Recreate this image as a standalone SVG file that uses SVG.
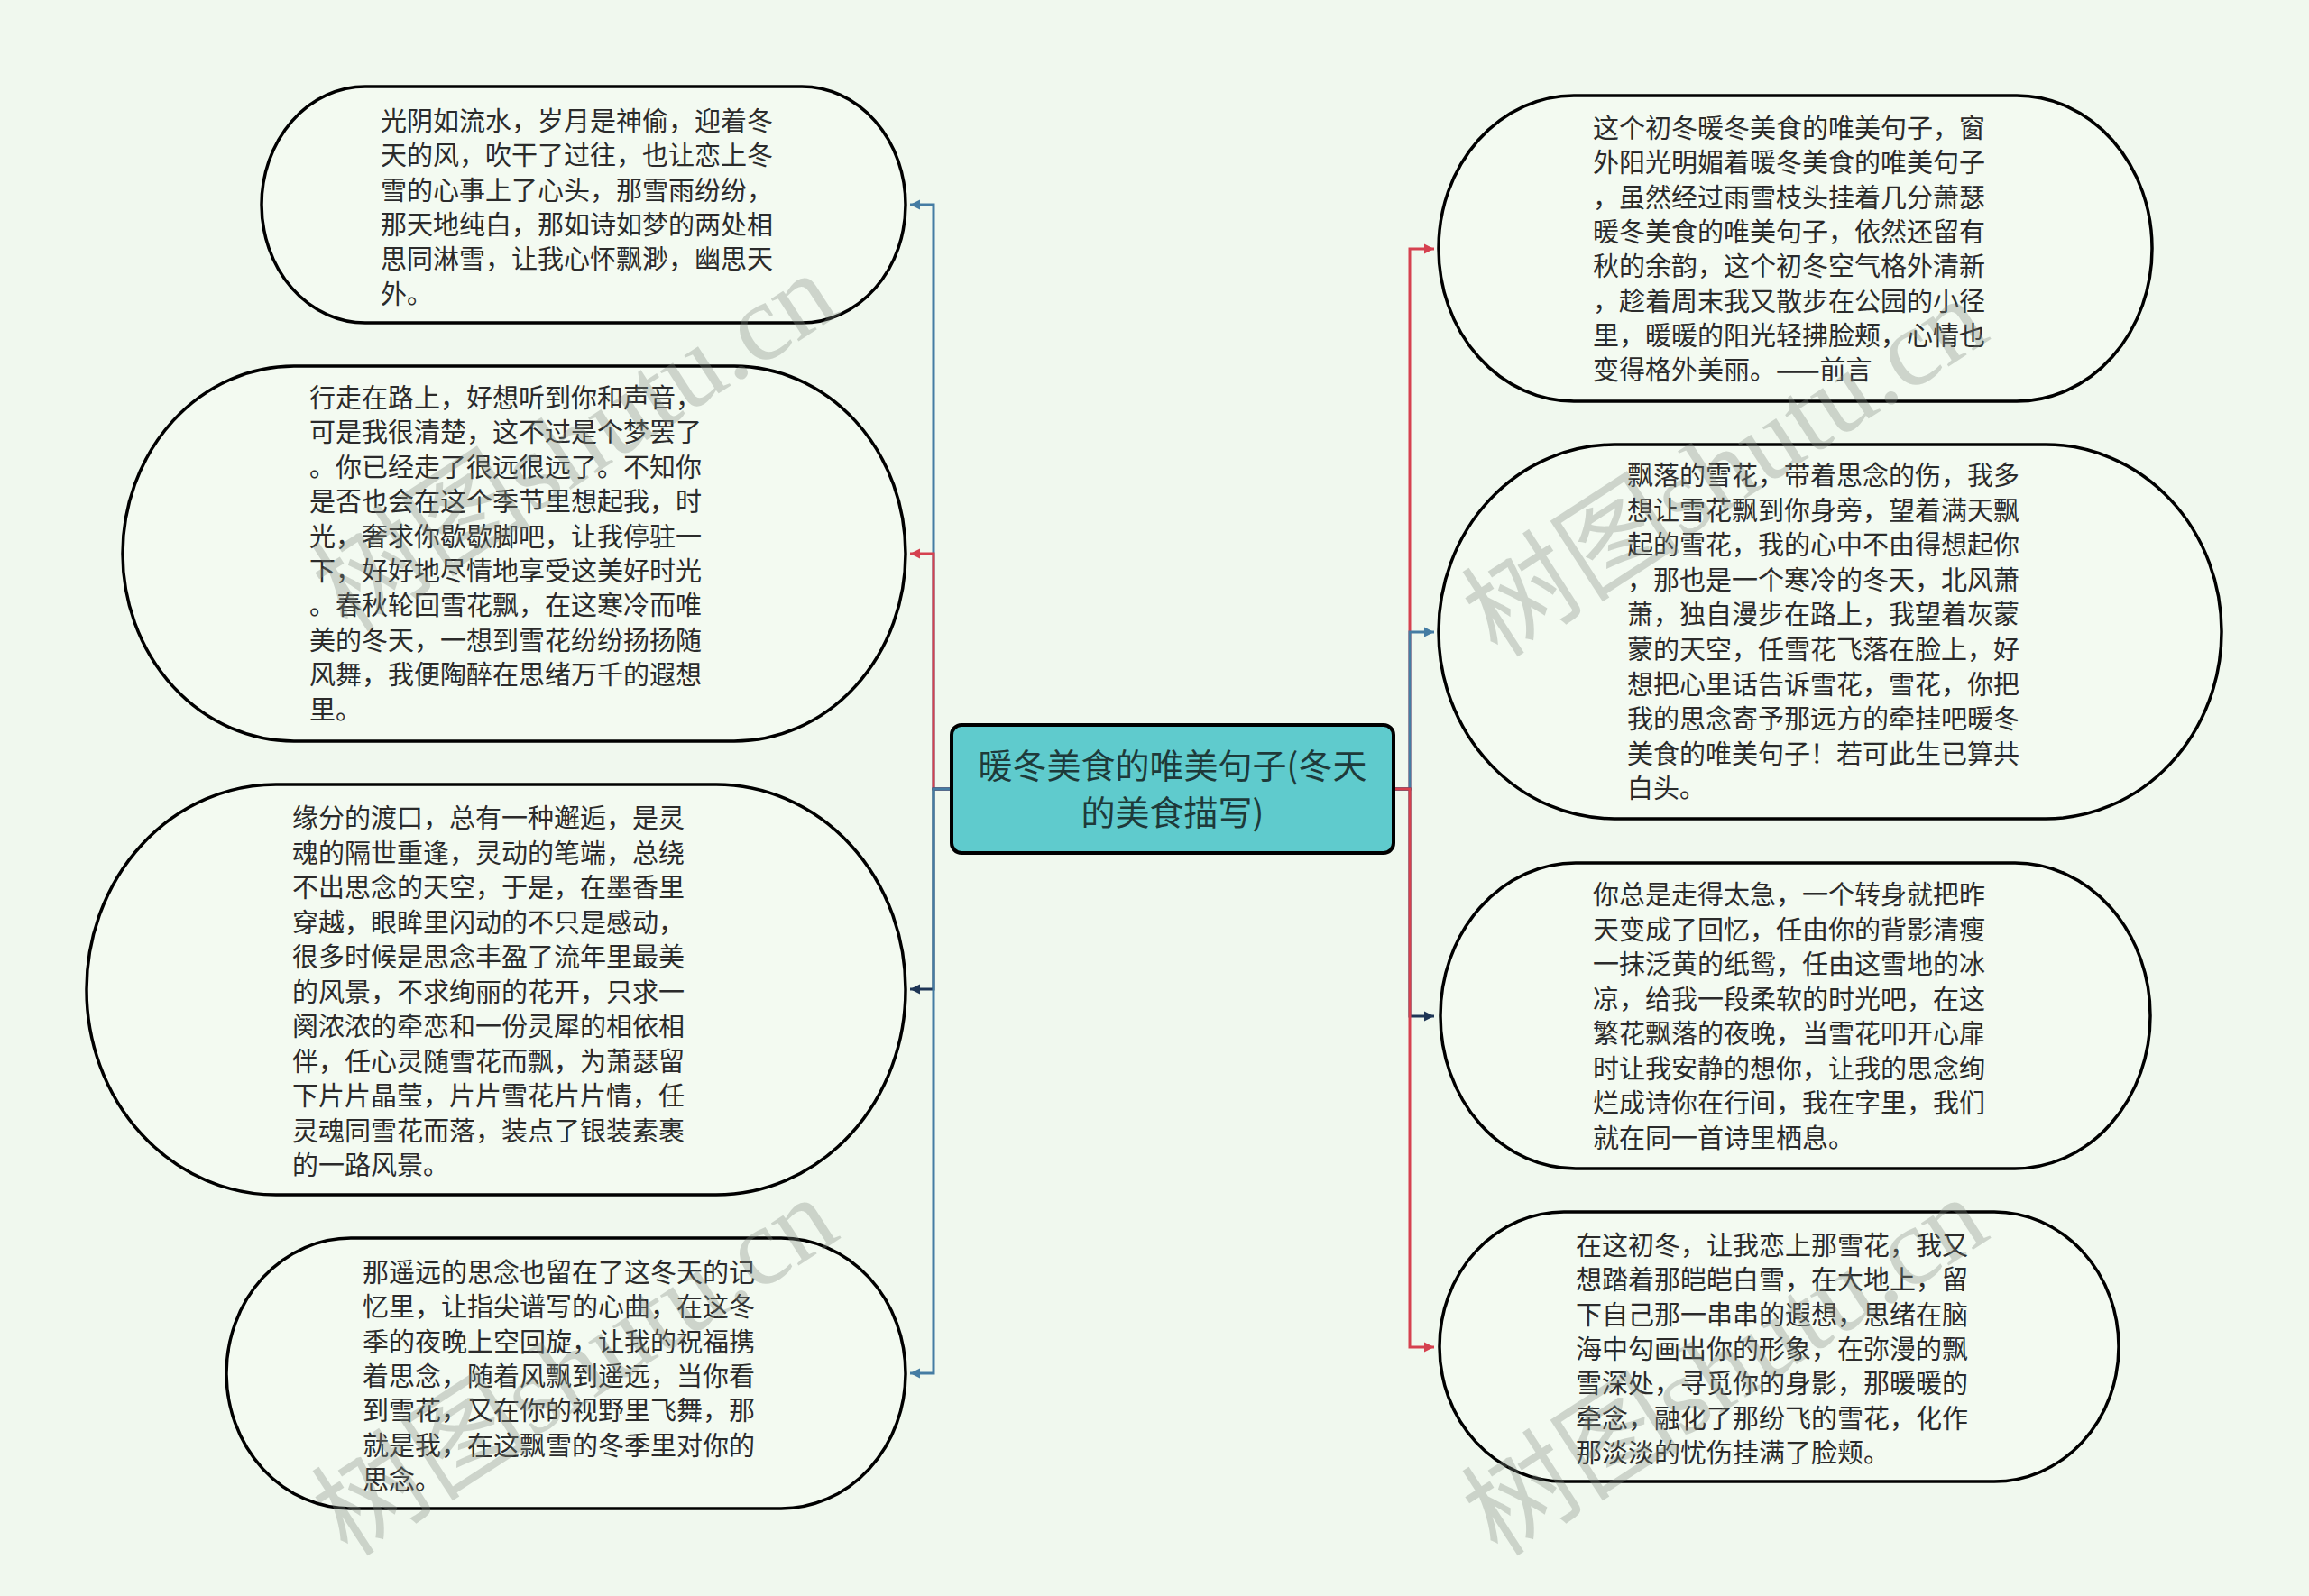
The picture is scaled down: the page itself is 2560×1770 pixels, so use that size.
<svg xmlns="http://www.w3.org/2000/svg" width="2560" height="1770" viewBox="0 0 2560 1770">
<style>
.bg{fill:#F0F8EE}
.node{fill:#F3FAF1;stroke:#000;stroke-width:3.5}
.t{font-family:"Noto Sans CJK SC","Noto Sans",sans-serif;font-size:29px;fill:#2b2b2b}
.root{fill:#5FCBCD;stroke:#000;stroke-width:4}
.rt{font-family:"Noto Sans CJK SC","Noto Sans",sans-serif;font-size:38px;fill:#1E3A3A;text-anchor:middle}
.c{fill:none;stroke-width:3}
.blue{stroke:#457CA3}
.red{stroke:#D5414F}
.navy{stroke:#1F3656}
.wm{font-family:"Liberation Serif","Noto Sans CJK SC",serif;font-size:122px;fill:#808a80;fill-opacity:0.33;text-anchor:middle}
</style>
<defs>
<marker id="ab" markerUnits="userSpaceOnUse" markerWidth="12" markerHeight="12" refX="11" refY="6" orient="auto"><path d="M0,0.5 L11,6 L0,11.5 Z" fill="#457CA3"/></marker>
<marker id="ar" markerUnits="userSpaceOnUse" markerWidth="12" markerHeight="12" refX="11" refY="6" orient="auto"><path d="M0,0.5 L11,6 L0,11.5 Z" fill="#D5414F"/></marker>
<marker id="an" markerUnits="userSpaceOnUse" markerWidth="12" markerHeight="12" refX="11" refY="6" orient="auto"><path d="M0,0.5 L11,6 L0,11.5 Z" fill="#1F3656"/></marker>
</defs>
<rect class="bg" x="0" y="0" width="2560" height="1770"/>

<g id="connectors">
<path class="c blue" d="M1055,875 H1035 V227 H1009" marker-end="url(#ab)"/>
<path class="c red" d="M1055,875 H1035 V614 H1009" marker-end="url(#ar)"/>
<path class="c navy" d="M1055,875 H1035 V1097 H1009" marker-end="url(#an)"/>
<path class="c blue" d="M1055,875 H1035 V1523 H1009" marker-end="url(#ab)"/>
<path class="c red" d="M1545,875 H1563 V276 H1590" marker-end="url(#ar)"/>
<path class="c blue" d="M1545,875 H1563 V701 H1590" marker-end="url(#ab)"/>
<path class="c navy" d="M1545,875 H1563 V1127 H1590" marker-end="url(#an)"/>
<path class="c red" d="M1545,875 H1563 V1494 H1590" marker-end="url(#ar)"/>
</g>

<g id="root">
<rect class="root" x="1055" y="804" width="490" height="142" rx="11" ry="11"/>
<text class="rt" x="1300" y="863">暖冬美食的唯美句子(冬天</text>
<text class="rt" x="1300" y="915">的美食描写)</text>
</g>

<g id="n1">
<rect class="node" x="290" y="96" width="714" height="262" rx="115" ry="131"/>
<text class="t" x="422" y="145">光阴如流水，岁月是神偷，迎着冬</text>
<text class="t" x="422" y="183">天的风，吹干了过往，也让恋上冬</text>
<text class="t" x="422" y="222">雪的心事上了心头，那雪雨纷纷，</text>
<text class="t" x="422" y="260">那天地纯白，那如诗如梦的两处相</text>
<text class="t" x="422" y="298">思同淋雪，让我心怀飘渺，幽思天</text>
<text class="t" x="422" y="337">外。</text>
</g>

<g id="n2">
<rect class="node" x="136" y="406" width="868" height="416" rx="190" ry="208"/>
<text class="t" x="343" y="452">行走在路上，好想听到你和声音，</text>
<text class="t" x="343" y="490">可是我很清楚，这不过是个梦罢了</text>
<text class="t" x="343" y="529">。你已经走了很远很远了。不知你</text>
<text class="t" x="343" y="567">是否也会在这个季节里想起我，时</text>
<text class="t" x="343" y="606">光，奢求你歇歇脚吧，让我停驻一</text>
<text class="t" x="343" y="644">下，好好地尽情地享受这美好时光</text>
<text class="t" x="343" y="682">。春秋轮回雪花飘，在这寒冷而唯</text>
<text class="t" x="343" y="721">美的冬天，一想到雪花纷纷扬扬随</text>
<text class="t" x="343" y="759">风舞，我便陶醉在思绪万千的遐想</text>
<text class="t" x="343" y="798">里。</text>
</g>

<g id="n3">
<rect class="node" x="96" y="870" width="908" height="455" rx="210" ry="227"/>
<text class="t" x="324" y="918">缘分的渡口，总有一种邂逅，是灵</text>
<text class="t" x="324" y="957">魂的隔世重逢，灵动的笔端，总绕</text>
<text class="t" x="324" y="995">不出思念的天空，于是，在墨香里</text>
<text class="t" x="324" y="1034">穿越，眼眸里闪动的不只是感动，</text>
<text class="t" x="324" y="1072">很多时候是思念丰盈了流年里最美</text>
<text class="t" x="324" y="1111">的风景，不求绚丽的花开，只求一</text>
<text class="t" x="324" y="1149">阕浓浓的牵恋和一份灵犀的相依相</text>
<text class="t" x="324" y="1188">伴，任心灵随雪花而飘，为萧瑟留</text>
<text class="t" x="324" y="1226">下片片晶莹，片片雪花片片情，任</text>
<text class="t" x="324" y="1265">灵魂同雪花而落，装点了银装素裹</text>
<text class="t" x="324" y="1303">的一路风景。</text>
</g>

<g id="n4">
<rect class="node" x="251" y="1373" width="753" height="300" rx="138" ry="150"/>
<text class="t" x="402" y="1422">那遥远的思念也留在了这冬天的记</text>
<text class="t" x="402" y="1460">忆里，让指尖谱写的心曲，在这冬</text>
<text class="t" x="402" y="1499">季的夜晚上空回旋，让我的祝福携</text>
<text class="t" x="402" y="1537">着思念，随着风飘到遥远，当你看</text>
<text class="t" x="402" y="1575">到雪花，又在你的视野里飞舞，那</text>
<text class="t" x="402" y="1614">就是我，在这飘雪的冬季里对你的</text>
<text class="t" x="402" y="1652">思念。</text>
</g>

<g id="n5">
<rect class="node" x="1595" y="106" width="791" height="339" rx="150" ry="169"/>
<text class="t" x="1766" y="153">这个初冬暖冬美食的唯美句子，窗</text>
<text class="t" x="1766" y="191">外阳光明媚着暖冬美食的唯美句子</text>
<text class="t" x="1766" y="230">，虽然经过雨雪枝头挂着几分萧瑟</text>
<text class="t" x="1766" y="268">暖冬美食的唯美句子，依然还留有</text>
<text class="t" x="1766" y="306">秋的余韵，这个初冬空气格外清新</text>
<text class="t" x="1766" y="345">，趁着周末我又散步在公园的小径</text>
<text class="t" x="1766" y="383">里，暖暖的阳光轻拂脸颊，心情也</text>
<text class="t" x="1766" y="421">变得格外美丽。——前言</text>
</g>

<g id="n6">
<rect class="node" x="1595" y="493" width="868" height="415" rx="195" ry="207"/>
<text class="t" x="1804" y="538">飘落的雪花，带着思念的伤，我多</text>
<text class="t" x="1804" y="577">想让雪花飘到你身旁，望着满天飘</text>
<text class="t" x="1804" y="615">起的雪花，我的心中不由得想起你</text>
<text class="t" x="1804" y="654">，那也是一个寒冷的冬天，北风萧</text>
<text class="t" x="1804" y="692">萧，独自漫步在路上，我望着灰蒙</text>
<text class="t" x="1804" y="731">蒙的天空，任雪花飞落在脸上，好</text>
<text class="t" x="1804" y="770">想把心里话告诉雪花，雪花，你把</text>
<text class="t" x="1804" y="808">我的思念寄予那远方的牵挂吧暖冬</text>
<text class="t" x="1804" y="847">美食的唯美句子！若可此生已算共</text>
<text class="t" x="1804" y="885">白头。</text>
</g>

<g id="n7">
<rect class="node" x="1597" y="957" width="787" height="339" rx="150" ry="169"/>
<text class="t" x="1766" y="1003">你总是走得太急，一个转身就把昨</text>
<text class="t" x="1766" y="1042">天变成了回忆，任由你的背影清瘦</text>
<text class="t" x="1766" y="1080">一抹泛黄的纸鸳，任由这雪地的冰</text>
<text class="t" x="1766" y="1119">凉，给我一段柔软的时光吧，在这</text>
<text class="t" x="1766" y="1157">繁花飘落的夜晚，当雪花叩开心扉</text>
<text class="t" x="1766" y="1196">时让我安静的想你，让我的思念绚</text>
<text class="t" x="1766" y="1234">烂成诗你在行间，我在字里，我们</text>
<text class="t" x="1766" y="1273">就在同一首诗里栖息。</text>
</g>

<g id="n8">
<rect class="node" x="1596" y="1344" width="753" height="299" rx="138" ry="149"/>
<text class="t" x="1747" y="1392">在这初冬，让我恋上那雪花，我又</text>
<text class="t" x="1747" y="1430">想踏着那皑皑白雪，在大地上，留</text>
<text class="t" x="1747" y="1469">下自己那一串串的遐想，思绪在脑</text>
<text class="t" x="1747" y="1507">海中勾画出你的形象，在弥漫的飘</text>
<text class="t" x="1747" y="1545">雪深处，寻觅你的身影，那暖暖的</text>
<text class="t" x="1747" y="1584">牵念，融化了那纷飞的雪花，化作</text>
<text class="t" x="1747" y="1622">那淡淡的忧伤挂满了脸颊。</text>
</g>

<g id="watermarks">
<text class="wm" transform="translate(660,525) rotate(-33)">树图shutu.cn</text>
<text class="wm" transform="translate(660,1550) rotate(-33)">树图shutu.cn</text>
<text class="wm" transform="translate(1935,553) rotate(-33)">树图shutu.cn</text>
<text class="wm" transform="translate(1935,1550) rotate(-33)">树图shutu.cn</text>
</g>
</svg>
